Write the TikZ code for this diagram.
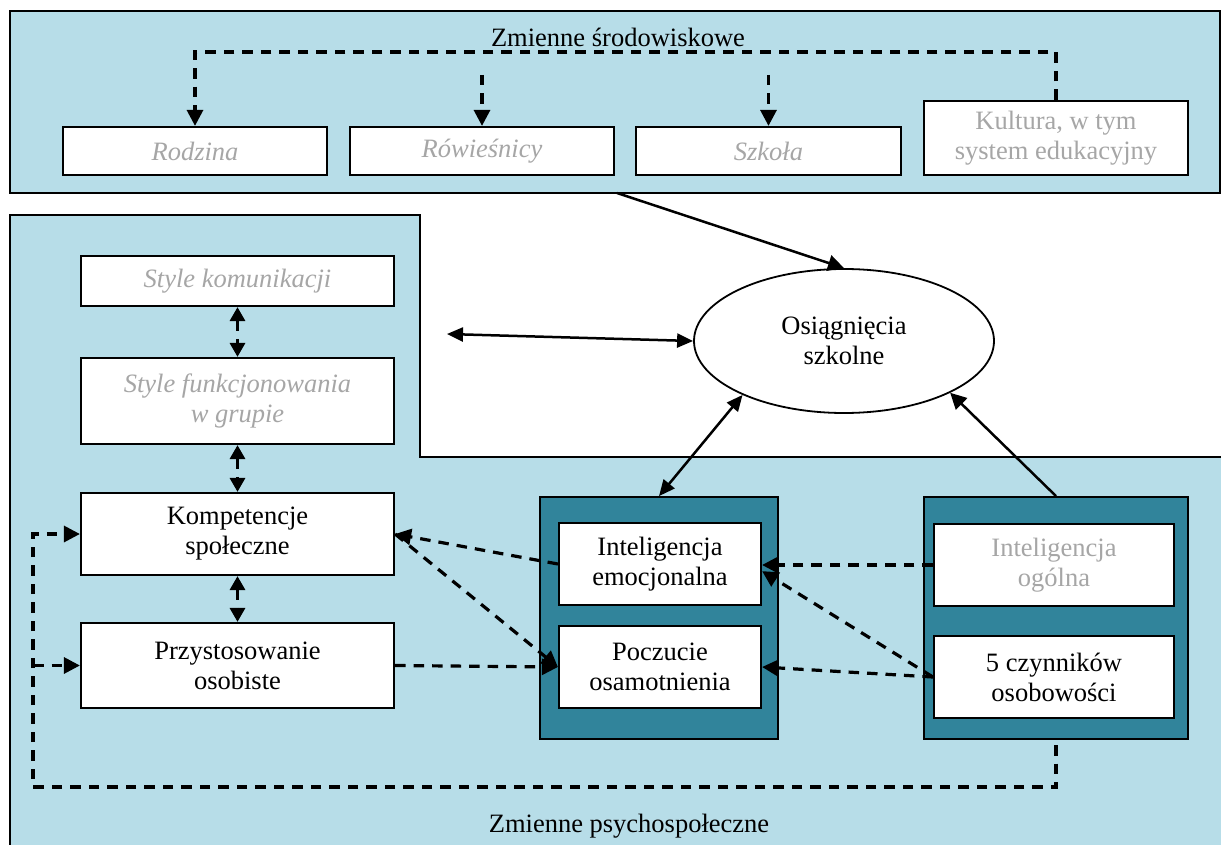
\documentclass[tikz,border=0pt]{standalone}
\usepackage{fontspec}
\setmainfont{Liberation Serif}
\usetikzlibrary{arrows.meta,shapes.geometric,calc}
\definecolor{paneblue}{HTML}{B7DDE8}
\definecolor{groupteal}{HTML}{31849B}
\definecolor{fadedtext}{HTML}{A6A6A6}

\begin{document}
\begin{tikzpicture}[x=1pt,y=-1pt,
  every node/.style={font=\fontsize{26.5}{30}\selectfont},
  panel/.style={draw=black,line width=1.6pt,fill=paneblue},
  wbox/.style={draw=black,line width=2.2pt,fill=white,inner sep=0pt,align=center},
  groupbox/.style={draw=black,line width=1.8pt,fill=groupteal,inner sep=0pt},
  faded/.style={text=fadedtext},
  dsh/.style={line width=3.2pt,dash pattern=on 10.5pt off 8pt},
  sol/.style={line width=2.5pt},
  tip/.style={-{Triangle[length=16pt,width=16pt]}},
  tips/.style={{Triangle[length=16pt,width=14pt]}-{Triangle[length=16pt,width=14pt]}},
  vtips/.style={{Triangle[length=14pt,width=15pt]}-{Triangle[length=14pt,width=15pt]}},
]
\useasboundingbox (0,0) rectangle (1221,845);
\fill[white] (0,0) rectangle (1221,845);

% panels
\draw[panel] (10,11) rectangle (1220,193);
\draw[panel] (10,215) -- (420,215) -- (420,457) -- (1223,457) -- (1223,850) -- (10,850) -- cycle;

\node (envtitle) at (618,37) {Zmienne środowiskowe};
\node (psytitle) at (629,826) {Zmienne psychospołeczne};

% environmental variables
\node[wbox,faded,minimum width=264pt,minimum height=48pt] (rodz) at (195,151) {\textit{Rodzina}};
\node[wbox,faded,minimum width=264pt,minimum height=48pt] (row) at (482,151) {\textit{Rówieśnicy}};
\node[wbox,faded,minimum width=265pt,minimum height=48pt] (szk) at (768.5,151) {\textit{Szkoła}};
\node[wbox,faded,minimum width=264pt,minimum height=74pt] (kult) at (1056,138) {Kultura, w tym\\system edukacyjny};

\coordinate (tl) at (600,52);
\coordinate (rs) at (482,75);
\coordinate (ss) at (768.5,75);
\draw[dsh,tip] (kult.north) |- (tl) -| (rodz.north);
\draw[dsh,tip] (rs) -- (row.north);
\draw[dsh,tip] (ss) -- (szk.north);

% psychosocial variables
\node[wbox,faded,minimum width=313pt,minimum height=50pt] (sk) at (237.5,281) {\textit{Style komunikacji}};
\node[wbox,faded,minimum width=313pt,minimum height=86pt] (sf) at (237.5,401) {\textit{Style funkcjonowania}\\\textit{w grupie}};
\node[wbox,minimum width=313pt,minimum height=82pt] (komp) at (237.5,534) {Kompetencje\\społeczne};
\node[wbox,minimum width=313pt,minimum height=85pt] (przy) at (237.5,665.5) {Przystosowanie\\osobiste};

\node[groupbox,minimum width=238pt,minimum height=242pt] (grpA) at (659,618) {};
\node[wbox,minimum width=202pt,minimum height=82pt] (emo) at (660,564) {Inteligencja\\emocjonalna};
\node[wbox,minimum width=202pt,minimum height=82pt] (pocz) at (660,667) {Poczucie\\osamotnienia};

\node[groupbox,minimum width=264pt,minimum height=242pt] (grpB) at (1056,618) {};
\node[wbox,faded,minimum width=240pt,minimum height=82pt] (ogol) at (1054,565) {Inteligencja\\ogólna};
\node[wbox,minimum width=240pt,minimum height=82pt] (cz5) at (1054,677) {5 czynników\\osobowości};

% school achievement
\node[draw=black,line width=1.8pt,fill=white,ellipse,minimum width=300pt,minimum height=144pt,inner sep=0pt,align=center] (ach) at (844,341) {Osiągnięcia\\szkolne};

% solid connectors
\coordinate (envout) at (617,193);
\coordinate (lft) at (447,334);
\draw[sol,tip] (envout) -- (ach.north);
\draw[sol,tips] (lft) -- (ach.west);
\draw[sol,tips] (ach.208) -- (grpA.north);
\draw[sol,tip] (grpB.north) -- (ach.334);

% vertical links on the left
\draw[dsh,vtips] (sk.south) -- (sf.north);
\draw[dsh,vtips] (sf.south) -- (komp.north);
\draw[dsh,vtips] (komp.south) -- (przy.north);

% dashed influences
\draw[dsh,tip] (ogol.west) -- (ogol.west -| emo.east);
\draw[dsh,tip] (cz5.west) -- (emo.-4);
\draw[dsh,tip] (cz5.west) -- (pocz.east);
\draw[dsh,tip] (emo.west) -- (komp.east);
\draw[dsh,tip] (komp.east) -- (pocz.west);
\draw[dsh,tip] (przy.east) -- (pocz.west);

% feedback loop
\coordinate (lpstart) at (1056,745);
\coordinate (lp) at (33,787);
\draw[dsh,tip] (lpstart) |- (lp) |- (komp.west);
\draw[dsh,tip] (lp |- przy.west) -- (przy.west);
\end{tikzpicture}
\end{document}
